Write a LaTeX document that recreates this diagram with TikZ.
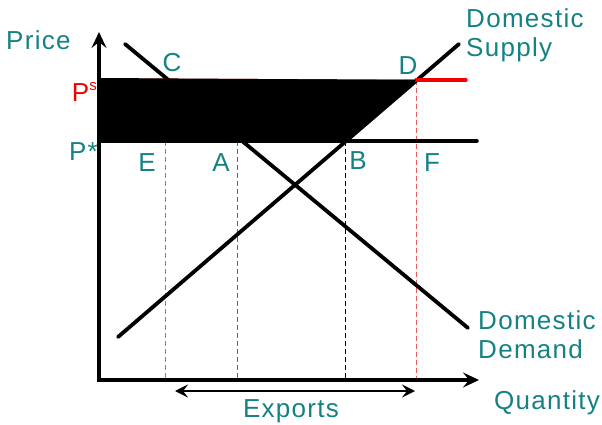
\documentclass[tikz,border=0pt]{standalone}
\usepackage{fontspec}
\setmainfont{Liberation Sans}[LetterSpace=5]
\usetikzlibrary{arrows.meta}
\definecolor{teal1}{RGB}{20,130,130}
\definecolor{redline}{RGB}{240,0,0}
\definecolor{pinkdash}{RGB}{235,90,90}
\begin{document}
\begin{tikzpicture}[x=1pt,y=-1pt,
  lbl/.style={text=teal1,font=\fontsize{26}{29}\selectfont,inner sep=0pt},
  thick3/.style={line width=3.8pt},
  axisarrow/.style={line width=4.2pt,{Stealth[length=16pt,width=15pt,inset=6pt]}-{Stealth[length=16pt,width=15pt,inset=6pt]}},
  guide/.style={line width=0.9pt,dash pattern=on 5pt off 3pt}]
\useasboundingbox (0,0) rectangle (602,425);
% key points
\coordinate (O) at (99,380);
\coordinate (Ytop) at (99,32);
\coordinate (Xend) at (479,380);
\coordinate (PsL) at (99,79);
\coordinate (PsR) at (466,80);
\coordinate (PstL) at (99,141);
\coordinate (PstR) at (477,141);
\coordinate (Dpt) at (416,80);
\coordinate (Apt) at (237,141);
\coordinate (Bpt) at (345,141);
\coordinate (Ept) at (165,141);
\coordinate (Fpt) at (416,380);
\coordinate (Dem1) at (125,44);
\coordinate (Dem2) at (468,328);
\coordinate (Sup1) at (118,337);
\coordinate (Sup2) at (459,44);
\coordinate (Ebot) at (165,380);
\coordinate (Abot) at (237,380);
\coordinate (Bbot) at (345,380);
\coordinate (ExL) at (175,391);
\coordinate (ExR) at (415,391);
% guides
\draw[guide,draw=pinkdash] (Ept) -- (Ebot);
\draw[guide,draw=black!60] (Apt) -- (Abot);
\draw[guide,draw=black] (Bpt) -- (Bbot);
\draw[guide,draw=pinkdash] (Dpt) -- (Fpt);
% curves
\draw[thick3,line cap=round] (Dem1) -- (Dem2);
\draw[thick3,line cap=round] (Sup1) -- (Sup2);
% red price line
\draw[redline,line width=1pt] (PsL) -- (Dpt);
\draw[redline,line width=3.5pt,line cap=round] (Dpt) -- (PsR);
% filled area
\fill[black] (99,78) -- (Dpt) -- (Bpt) -- (PstL) -- cycle;
% world price line
\draw[line width=3.5pt,line cap=round] (PstL) -- (PstR);
% axes
\draw[axisarrow] (Ytop) -- (O) -- (Xend);
% exports arrow
\draw[line width=2.8pt,{Stealth[length=13pt,width=13pt,inset=5pt]}-{Stealth[length=13pt,width=13pt,inset=5pt]}] (ExL) -- (ExR);
% labels
\node[lbl,anchor=west] (price) at (6,40) {Price};
\node[lbl,anchor=east,text=redline] (ps) at (97,92) {P\raisebox{0.42em}{\fontsize{15}{15}\selectfont s}};
\node[lbl,anchor=east] (pstar) at (98,152) {P*};
\node[lbl] (lc) at (172,63) {C};
\node[lbl] (ld) at (408,66) {D};
\node[lbl] (le) at (147,163) {E};
\node[lbl] (la) at (221,163) {A};
\node[lbl] (lb) at (358,161) {B};
\node[lbl] (lf) at (432,163) {F};
\node[lbl,anchor=north west,align=left] (sup) at (466,8) {Domestic\\Supply};
\node[lbl,anchor=north west,align=left] (dem) at (478,310) {Domestic\\Demand};
\node[lbl] (qty) at (547,403) {Quantity};
\node[lbl] (exp) at (291,411) {Exports};
\end{tikzpicture}
\end{document}
